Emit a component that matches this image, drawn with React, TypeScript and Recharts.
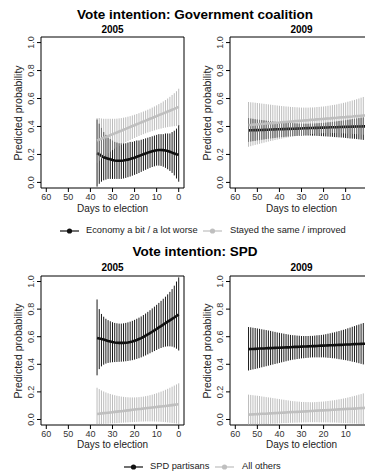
import React from 'react';
import { ComposedChart, Line, XAxis, YAxis, ErrorBar, ReferenceArea } from 'recharts';

// ---------- data ----------
const DAYS_2005 = [37,36,35,34,33,32,31,30,29,28,27,26,25,24,23,22,21,20,19,18,17,16,15,14,13,12,11,10,9,8,7,6,5,4,3,2,1,0];
const DAYS_2009 = [54,53,52,51,50,49,48,47,46,45,44,43,42,41,40,39,38,37,36,35,34,33,32,31,30,29,28,27,26,25,24,23,22,21,20,19,18,17,16,15,14,13,12,11,10,9,8,7,6,5,4,3,2,1,0];

const X_TICKS = [60, 50, 40, 30, 20, 10, 0];
const Y_TICKS = [0, 0.2, 0.4, 0.6, 0.8, 1.0];

// Government coalition, 2005 — "Economy a bit / a lot worse" (black)
const GOV05_WORSE_MEAN = [.21,.20,.19,.18,.175,.17,.165,.16,.157,.155,.155,.155,.157,.16,.163,.167,.172,.177,.183,.189,.195,.201,.207,.213,.218,.223,.227,.23,.232,.232,.231,.228,.224,.219,.213,.207,.202,.198];
const GOV05_WORSE_HI = [.45,.42,.39,.36,.34,.32,.31,.30,.29,.285,.28,.28,.28,.28,.285,.29,.29,.295,.30,.30,.305,.31,.315,.32,.325,.33,.335,.34,.345,.345,.345,.35,.35,.35,.36,.37,.385,.41];
const GOV05_WORSE_LO = [-.03,-.01,.005,.015,.02,.025,.025,.025,.025,.025,.025,.025,.028,.032,.037,.042,.048,.054,.06,.067,.075,.083,.09,.097,.104,.11,.115,.12,.12,.118,.112,.104,.094,.082,.068,.05,.028,.005];
// Government coalition, 2005 — "Stayed the same / improved" (grey)
const GOV05_SAME_MEAN = [.30,.306,.312,.319,.325,.331,.338,.344,.351,.357,.364,.37,.377,.383,.39,.396,.403,.409,.416,.422,.429,.435,.442,.448,.455,.461,.468,.474,.481,.487,.494,.50,.507,.513,.52,.526,.533,.54];
const GOV05_SAME_HI = [.46,.46,.457,.455,.455,.455,.455,.455,.455,.456,.458,.46,.463,.466,.47,.474,.479,.484,.489,.495,.501,.507,.513,.52,.527,.535,.543,.551,.56,.569,.579,.589,.60,.612,.625,.638,.652,.67];
const GOV05_SAME_LO = [.14,.155,.17,.184,.197,.209,.22,.231,.241,.251,.26,.269,.278,.287,.295,.303,.311,.318,.325,.332,.339,.345,.351,.357,.362,.367,.372,.377,.381,.385,.389,.392,.395,.398,.40,.402,.404,.405];

// Government coalition, 2009
const GOV09_WORSE_MEAN = [.372,.373,.373,.374,.374,.375,.375,.376,.377,.377,.378,.378,.379,.38,.38,.381,.381,.382,.383,.383,.384,.384,.385,.386,.386,.387,.387,.388,.389,.389,.39,.39,.391,.392,.392,.393,.393,.394,.394,.395,.395,.396,.396,.397,.397,.398,.398,.399,.399,.40,.40,.40,.401,.401,.402];
const GOV09_WORSE_HI = [.46,.457,.455,.452,.45,.448,.446,.444,.442,.44,.438,.436,.434,.432,.43,.429,.428,.427,.426,.425,.424,.423,.422,.421,.42,.42,.42,.42,.421,.421,.422,.423,.424,.425,.426,.428,.43,.431,.433,.435,.437,.439,.441,.443,.445,.448,.45,.453,.455,.458,.46,.463,.465,.468,.47];
const GOV09_WORSE_LO = [.29,.292,.295,.297,.30,.302,.305,.307,.31,.312,.314,.316,.318,.32,.322,.324,.325,.327,.328,.33,.331,.332,.333,.334,.335,.335,.335,.335,.335,.334,.334,.333,.332,.331,.33,.329,.328,.327,.326,.324,.323,.322,.321,.32,.318,.316,.314,.313,.312,.31,.308,.306,.304,.302,.30];
const GOV09_SAME_MEAN = [.41,.411,.413,.414,.415,.417,.418,.419,.421,.422,.423,.424,.426,.427,.428,.43,.431,.432,.434,.435,.436,.438,.439,.44,.441,.443,.444,.445,.447,.448,.449,.451,.452,.453,.454,.456,.457,.458,.46,.461,.462,.464,.465,.466,.467,.469,.47,.471,.473,.474,.475,.477,.478,.479,.48];
const GOV09_SAME_HI = [.575,.573,.572,.57,.568,.566,.564,.562,.56,.558,.556,.554,.552,.55,.548,.546,.545,.543,.542,.54,.539,.538,.537,.536,.535,.535,.535,.535,.536,.536,.537,.539,.54,.542,.543,.545,.548,.55,.553,.555,.558,.562,.565,.569,.572,.577,.581,.586,.59,.595,.60,.606,.611,.617,.622];
const GOV09_SAME_LO = [.255,.259,.264,.268,.272,.276,.28,.284,.288,.292,.296,.299,.303,.306,.31,.313,.316,.319,.322,.325,.328,.33,.333,.335,.338,.34,.342,.344,.345,.347,.348,.349,.35,.351,.352,.352,.353,.353,.353,.353,.352,.352,.351,.351,.35,.349,.348,.347,.346,.345,.344,.342,.341,.339,.338];

// SPD, 2005 — "SPD partisans" (black) / "All others" (grey)
const SPD05_PART_MEAN = [.59,.587,.583,.579,.574,.569,.565,.561,.558,.556,.555,.555,.555,.556,.558,.561,.565,.57,.576,.583,.59,.598,.607,.616,.626,.636,.646,.656,.667,.677,.688,.698,.709,.719,.729,.739,.75,.76];
const SPD05_PART_HI = [.87,.80,.765,.745,.73,.72,.712,.705,.70,.697,.695,.695,.697,.70,.704,.709,.715,.722,.73,.738,.747,.757,.768,.78,.792,.805,.818,.831,.845,.86,.875,.89,.907,.925,.945,.97,1.0,1.03];
const SPD05_PART_LO = [.32,.365,.385,.397,.405,.41,.413,.415,.416,.417,.418,.419,.42,.422,.424,.427,.43,.434,.439,.444,.45,.457,.464,.472,.48,.488,.496,.504,.512,.518,.524,.528,.53,.53,.528,.522,.513,.50];
const SPD05_OTH_MEAN = [.04,.042,.044,.046,.047,.049,.051,.053,.055,.057,.059,.06,.062,.064,.066,.068,.07,.072,.074,.076,.077,.079,.081,.083,.085,.087,.089,.091,.093,.094,.096,.098,.10,.102,.104,.106,.108,.11];
const SPD05_OTH_HI = [.23,.22,.21,.203,.196,.19,.185,.18,.176,.172,.169,.166,.164,.162,.161,.16,.16,.16,.161,.162,.164,.166,.169,.172,.176,.18,.185,.19,.196,.202,.208,.215,.222,.23,.238,.246,.254,.262];
const SPD05_OTH_LO = [-.035,-.034,-.033,-.032,-.031,-.03,-.029,-.028,-.027,-.026,-.025,-.024,-.023,-.022,-.021,-.02,-.019,-.018,-.017,-.016,-.015,-.015,-.014,-.014,-.014,-.014,-.015,-.015,-.016,-.017,-.018,-.019,-.021,-.023,-.025,-.027,-.029,-.032];

// SPD, 2009
const SPD09_PART_MEAN = [.51,.511,.511,.512,.513,.514,.514,.515,.516,.517,.517,.518,.519,.52,.52,.521,.522,.523,.523,.524,.525,.526,.526,.527,.528,.529,.529,.53,.531,.532,.532,.533,.534,.535,.535,.536,.537,.538,.538,.539,.54,.541,.541,.542,.543,.544,.544,.545,.546,.547,.547,.548,.549,.549,.55];
const SPD09_PART_HI = [.67,.668,.665,.663,.66,.657,.654,.651,.648,.645,.642,.638,.635,.631,.628,.625,.622,.619,.616,.613,.611,.61,.608,.607,.605,.605,.605,.605,.606,.606,.608,.61,.611,.613,.615,.618,.622,.625,.629,.632,.637,.641,.646,.65,.655,.661,.666,.672,.677,.683,.688,.694,.699,.705,.71];
const SPD09_PART_LO = [.355,.359,.363,.366,.37,.374,.378,.382,.386,.39,.394,.398,.402,.406,.41,.414,.418,.422,.426,.43,.433,.435,.438,.44,.443,.444,.446,.447,.449,.45,.45,.45,.45,.45,.45,.449,.447,.446,.444,.443,.44,.437,.435,.432,.43,.426,.423,.419,.416,.412,.408,.403,.399,.394,.39];
const SPD09_OTH_MEAN = [.035,.036,.037,.038,.039,.04,.041,.042,.042,.043,.044,.045,.046,.047,.048,.049,.05,.051,.052,.053,.054,.054,.055,.056,.057,.058,.059,.06,.061,.062,.063,.064,.065,.066,.066,.067,.068,.069,.07,.071,.072,.073,.074,.075,.076,.077,.078,.078,.079,.08,.081,.082,.083,.084,.085];
const SPD09_OTH_HI = [.18,.178,.176,.174,.172,.17,.167,.165,.162,.16,.158,.155,.153,.15,.148,.145,.143,.14,.138,.135,.133,.132,.13,.129,.127,.127,.126,.126,.125,.125,.126,.127,.128,.129,.13,.132,.134,.136,.138,.14,.143,.146,.149,.152,.155,.159,.163,.167,.171,.175,.18,.184,.189,.193,.198];
const SPD09_OTH_LO = [-.04,-.039,-.038,-.037,-.036,-.036,-.035,-.034,-.033,-.032,-.031,-.03,-.03,-.029,-.028,-.027,-.026,-.026,-.025,-.024,-.024,-.023,-.023,-.022,-.022,-.021,-.021,-.02,-.02,-.02,-.02,-.02,-.021,-.021,-.021,-.021,-.021,-.022,-.022,-.022,-.023,-.024,-.025,-.026,-.026,-.027,-.028,-.029,-.029,-.03,-.031,-.032,-.034,-.035,-.036];

// ---------- helpers ----------
type Row = { day: number; bMean: number; bErr: number[]; gMean: number; gErr: number[] };

function buildRows(days: number[], bM: number[], bLo: number[], bHi: number[], gM: number[], gLo: number[], gHi: number[]): Row[] {
  return days.map((d, i) => ({
    day: d,
    bMean: bM[i],
    bErr: [bM[i] - bLo[i], bHi[i] - bM[i]],
    gMean: gM[i],
    gErr: [gM[i] - gLo[i], gHi[i] - gM[i]],
  }));
}

const FONT = '"Liberation Sans", Arial, Helvetica, sans-serif';
const BLACK = '#111111';
const GREY = '#bfbfbf';
const PLOT_W = 143;
const YW = 30;
const XH = 24;
const MT = 3;
const MR = 3;

const XTick = (props: any) => {
  const { x, y, payload } = props;
  return (
    <text x={x} y={y} dy="0.71em" textAnchor="middle" fontSize={9} fill="#333" fontFamily={FONT}>
      {payload.value}
    </text>
  );
};

const YTick = (props: any) => {
  const { x, y, payload } = props;
  const bx = x - 1;
  return (
    <text x={bx} y={y} transform={`rotate(-90 ${bx} ${y})`} textAnchor="middle" fontSize={9} fill="#333" fontFamily={FONT}>
      {Number(payload.value).toFixed(1)}
    </text>
  );
};

function Panel({ rows, left, top, plotH }: { rows: Row[]; left: number; top: number; plotH: number }) {
  return (
    <div style={{ position: 'absolute', left: left - YW, top: top - MT }}>
      <ComposedChart width={PLOT_W + YW + MR} height={plotH + MT + XH} data={rows} margin={{ top: MT, right: MR, bottom: 0, left: 0 }}>
        <XAxis type="number" dataKey="day" domain={[-2.4, 62.4]} reversed ticks={X_TICKS} allowDataOverflow interval={0}
          axisLine={false} stroke="#000" tickSize={4} tickMargin={2} tick={<XTick />} height={XH} />
        <YAxis type="number" domain={[-0.04, 1.04]} ticks={Y_TICKS} allowDataOverflow interval={0}
          axisLine={false} stroke="#000" tickSize={4} tickMargin={2} tick={<YTick />} width={YW} />
        <ReferenceArea x1={-2.4} x2={62.4} y1={-0.04} y2={1.04} fill="none" stroke="#000" strokeWidth={1} ifOverflow="visible" />
        <Line dataKey="bMean" stroke="none" dot={false} activeDot={false} isAnimationActive={false}>
          <ErrorBar dataKey="bErr" width={0} stroke="#1a1a1a" strokeWidth={1} direction="y" isAnimationActive={false} />
        </Line>
        <Line dataKey="bMean" stroke={BLACK} strokeWidth={2.6} dot={false} activeDot={false} isAnimationActive={false} />
        <Line dataKey="gMean" stroke="none" dot={false} activeDot={false} isAnimationActive={false}>
          <ErrorBar dataKey="gErr" width={0} stroke="rgba(160,160,160,0.7)" strokeWidth={1} direction="y" isAnimationActive={false} />
        </Line>
        <Line dataKey="gMean" stroke={GREY} strokeWidth={2.6} dot={false} activeDot={false} isAnimationActive={false} />
      </ComposedChart>
    </div>
  );
}

const txt = (content: string, cx: number, cy: number, size: number, bold = false, rotate = false, color = '#000') => (
  <div style={{
    position: 'absolute', left: cx, top: cy, transform: `translate(-50%, -50%)${rotate ? ' rotate(-90deg)' : ''}`,
    whiteSpace: 'nowrap', fontFamily: FONT, fontSize: size, fontWeight: bold ? 'bold' : 'normal', color, lineHeight: 1,
  }}>{content}</div>
);

const LegendKey = ({ x, y, color }: { x: number; y: number; color: string }) => (
  <svg style={{ position: 'absolute', left: x, top: y - 4 }} width={19} height={8}>
    <line x1={0} y1={4} x2={19} y2={4} stroke={color} strokeWidth={1.2} />
    <circle cx={9.5} cy={4} r={2.6} fill={color} />
  </svg>
);

const legText = (content: string, x: number, cy: number) => (
  <div style={{ position: 'absolute', left: x, top: cy, transform: 'translateY(-50%)', whiteSpace: 'nowrap', fontFamily: FONT, fontSize: 9.3, color: '#222', lineHeight: 1 }}>{content}</div>
);

export default function App() {
  const gov05 = buildRows(DAYS_2005, GOV05_WORSE_MEAN, GOV05_WORSE_LO, GOV05_WORSE_HI, GOV05_SAME_MEAN, GOV05_SAME_LO, GOV05_SAME_HI);
  const gov09 = buildRows(DAYS_2009, GOV09_WORSE_MEAN, GOV09_WORSE_LO, GOV09_WORSE_HI, GOV09_SAME_MEAN, GOV09_SAME_LO, GOV09_SAME_HI);
  const spd05 = buildRows(DAYS_2005, SPD05_PART_MEAN, SPD05_PART_LO, SPD05_PART_HI, SPD05_OTH_MEAN, SPD05_OTH_LO, SPD05_OTH_HI);
  const spd09 = buildRows(DAYS_2009, SPD09_PART_MEAN, SPD09_PART_LO, SPD09_PART_HI, SPD09_OTH_MEAN, SPD09_OTH_LO, SPD09_OTH_HI);

  const L1 = 41, L2 = 230;
  const T1 = 37, H1 = 151;
  const T2 = 276, H2 = 149;

  return (
    <div style={{ position: 'absolute', left: 0, top: 0, width: 365, height: 473, overflow: 'hidden', background: '#fff' }}>
      {txt('Vote intention: Government coalition', 195, 15, 13.5, true)}
      {txt('2005', L1 + PLOT_W / 2, 30, 10, true)}
      {txt('2009', L2 + PLOT_W / 2, 30, 10, true)}
      <Panel rows={gov05} left={L1} top={T1} plotH={H1} />
      <Panel rows={gov09} left={L2} top={T1} plotH={H1} />
      {txt('Predicted probability', 18, T1 + H1 / 2, 10.5, false, true, '#222')}
      {txt('Predicted probability', L2 - 23, T1 + H1 / 2, 10.5, false, true, '#222')}
      {txt('Days to election', L1 + PLOT_W / 2, 209, 10, false, false, '#222')}
      {txt('Days to election', L2 + PLOT_W / 2, 209, 10, false, false, '#222')}

      <LegendKey x={60} y={231} color={BLACK} />
      {legText('Economy a bit / a lot worse', 86, 231)}
      <LegendKey x={203} y={231} color={GREY} />
      {legText('Stayed the same / improved', 230, 231)}

      {txt('Vote intention: SPD', 195, 252, 13.5, true)}
      {txt('2005', L1 + PLOT_W / 2, 268, 10, true)}
      {txt('2009', L2 + PLOT_W / 2, 268, 10, true)}
      <Panel rows={spd05} left={L1} top={T2} plotH={H2} />
      <Panel rows={spd09} left={L2} top={T2} plotH={H2} />
      {txt('Predicted probability', 18, T2 + H2 / 2, 10.5, false, true, '#222')}
      {txt('Predicted probability', L2 - 23, T2 + H2 / 2, 10.5, false, true, '#222')}
      {txt('Days to election', L1 + PLOT_W / 2, 445, 10, false, false, '#222')}
      {txt('Days to election', L2 + PLOT_W / 2, 445, 10, false, false, '#222')}

      <LegendKey x={124} y={467} color={BLACK} />
      {legText('SPD partisans', 150, 467)}
      <LegendKey x={215} y={467} color={GREY} />
      {legText('All others', 242, 467)}
    </div>
  );
}
